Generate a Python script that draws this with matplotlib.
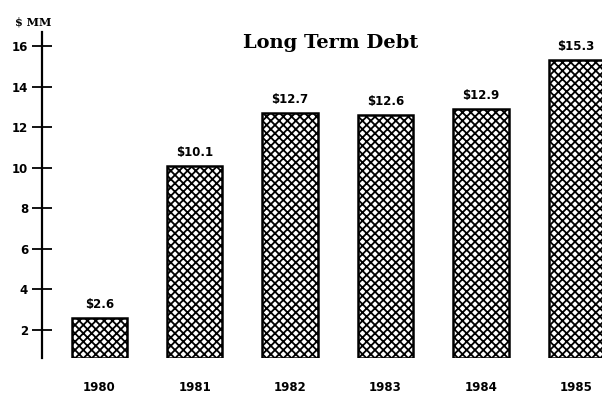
import matplotlib
matplotlib.use("Agg")
import matplotlib.pyplot as plt

# Long term debt by year, $ millions
years = ["1980", "1981", "1982", "1983", "1984", "1985"]
debt = [2.6, 10.1, 12.7, 12.6, 12.9, 15.3]
labels = ["$2.6", "$10.1", "$12.7", "$12.6", "$12.9", "$15.3"]
yticks = [2, 4, 6, 8, 10, 12, 14, 16]

base = 0.62  # bars sit on this floor line

plt.rcParams["hatch.linewidth"] = 1.3

fig = plt.figure(figsize=(6.02, 3.97), dpi=100)
ax = fig.add_axes([42 / 602, 1 - 358 / 397, 560 / 602, 326 / 397])

pos = list(range(len(years)))
ax.bar(pos, [v - base for v in debt], bottom=base, width=0.58,
       facecolor="white", edgecolor="black", hatch="xxxx", linewidth=1.8)

for p, v, t in zip(pos, debt, labels):
    ax.annotate(t, (p, v), xytext=(0, 5), textcoords="offset points",
                ha="center", va="bottom", fontsize=8.5, fontweight="bold",
                family="DejaVu Sans")
    ax.text(p, -0.089, years[p], transform=ax.get_xaxis_transform(),
            ha="center", va="center", fontsize=8.5, fontweight="bold",
            family="DejaVu Sans")

ax.set_xlim(-0.6, 5.27)
ax.set_ylim(base, 16.7)

for s in ["top", "right", "bottom"]:
    ax.spines[s].set_visible(False)
ax.spines["left"].set_linewidth(1.6)
ax.set_xticks([])
ax.set_yticks(yticks)
ax.set_yticklabels([str(t) for t in yticks], fontsize=8.5, fontweight="bold")
ax.tick_params(axis="y", direction="inout", length=14, width=1.3, pad=3)

fig.text(331 / 602, 1 - 48 / 397, "Long Term Debt", ha="center",
         va="baseline", fontsize=14, fontweight="bold", family="DejaVu Serif")
fig.text(33 / 602, 1 - 22 / 397, "$ MM", ha="center", va="center",
         fontsize=8, fontweight="bold", family="DejaVu Serif")

fig.savefig("out.png", dpi=100)
